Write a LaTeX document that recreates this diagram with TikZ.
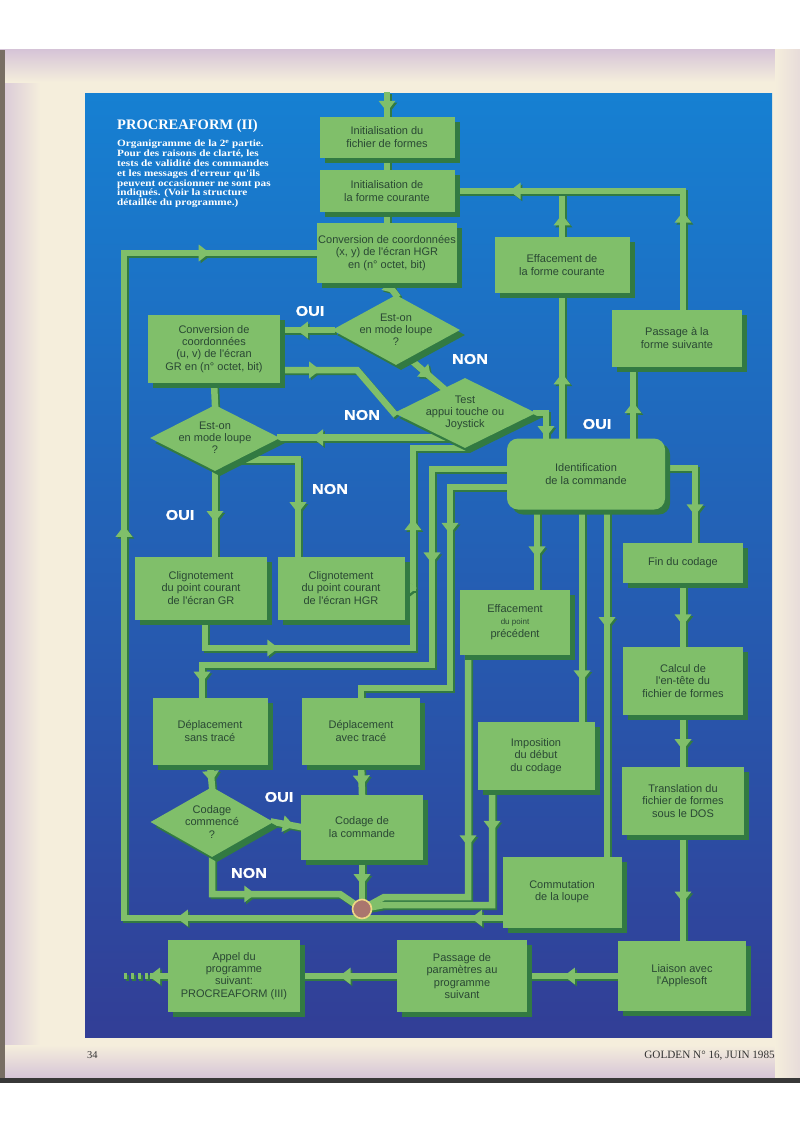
\documentclass[tikz,border=0pt]{standalone}
\usepackage{fontspec}
\setmainfont{Liberation Serif}
\newfontfamily\boxf{Liberation Sans}
\newfontfamily\capf[FakeStretch=1.17]{Liberation Serif}
\newfontfamily\labf[FakeStretch=1.15,FakeBold=1.2]{Liberation Sans}
\usetikzlibrary{shapes.geometric,shadows,decorations.markings,calc}
\definecolor{bgtop}{RGB}{22,128,210}
\definecolor{bgmid}{RGB}{34,98,192}
\definecolor{bgbot}{RGB}{50,62,150}
\definecolor{boxg}{RGB}{128,191,106}
\definecolor{shg}{RGB}{50,122,66}
\definecolor{txtg}{RGB}{42,72,52}
\definecolor{cream}{RGB}{245,238,220}
\definecolor{lilac}{RGB}{206,186,214}
\definecolor{tanedge}{RGB}{120,110,100}
\definecolor{junc}{RGB}{170,118,110}
\definecolor{juncedge}{RGB}{238,216,132}
\pgfdeclarelayer{back}
\pgfdeclarelayer{lines}
\pgfsetlayers{back,lines,main}
\newcommand\flowc[2][]{%
  \begin{scope}[transform canvas={shift={(1.8pt,-1.8pt)}}]\draw[flowsh,#1] #2;\end{scope}%
  \draw[flow,#1] #2;}
\tikzset{
  bx/.style={rectangle, fill=boxg, text=txtg, font=\boxf\fontsize{11}{12.2}\selectfont,
    align=center, inner sep=1pt,
    drop shadow={shadow xshift=5pt, shadow yshift=-5pt, fill=shg, opacity=1}},
  dia/.style={diamond, aspect=2, inner sep=-5pt, fill=boxg, text=txtg,
    font=\boxf\fontsize{11}{12.2}\selectfont, align=center,
    drop shadow={shadow xshift=5pt, shadow yshift=-5pt, fill=shg, opacity=1}},
  flow/.style={draw, color=boxg, line width=6.5pt, line join=miter, line cap=rect},
  flowsh/.style={draw, color=shg, line width=6.5pt, line join=miter, line cap=rect},
  ma/.style={postaction={decorate, decoration={markings,
      mark=at position #1 with {\fill (4pt,0pt) -- (-7pt,8.5pt) -- (-7pt,-8.5pt) -- cycle;}}}},
  lab/.style={text=white, font=\labf\bfseries\fontsize{14}{14}\selectfont, inner sep=0pt},
}
\begin{document}
\begin{tikzpicture}[x=1pt,y=-1pt]
\useasboundingbox (0,0) rectangle (800,1132);
% ---------------- nodes ----------------
\node[bx, minimum width=135pt, minimum height=41pt] (n1) at (387,137) {Initialisation du\\fichier de formes};
\node[bx, minimum width=135pt, minimum height=42pt] (n2) at (387,191) {Initialisation de\\la forme courante};
\node[bx, minimum width=135pt, minimum height=60pt] (n3) at (387,253) {Conversion de coordonnées\\(x, y) de l'écran HGR\\en (n° octet, bit)};
\node[dia, minimum width=128pt, minimum height=70pt] (d1) at (396,330) {Est-on\\en mode loupe\\?};
\node[bx, minimum width=132pt, minimum height=68pt] (n5) at (214,349) {Conversion de\\coordonnées\\(u, v) de l'écran\\GR en (n° octet, bit)};
\node[dia, minimum width=142pt, minimum height=70pt] (d2) at (465,413) {Test\\appui touche ou\\Joystick};
\node[dia, minimum width=130pt, minimum height=66pt] (d3) at (215,438) {Est-on\\en mode loupe\\?};
\node[bx, minimum width=132pt, minimum height=63pt] (n8) at (201,588) {Clignotement\\du point courant\\de l'écran GR};
\node[bx, minimum width=127pt, minimum height=63pt] (n9) at (341,588) {Clignotement\\du point courant\\de l'écran HGR};
\node[bx, rounded corners=11pt, minimum width=158pt, minimum height=71pt] (nid) at (586,474) {Identification\\de la commande};
\node[bx, minimum width=135pt, minimum height=56pt] (nefc) at (562,265) {Effacement de\\la forme courante};
\node[bx, minimum width=130pt, minimum height=57pt] (npfs) at (677,338) {Passage à la\\forme suivante};
\node[bx, minimum width=120pt, minimum height=40pt] (nfin) at (683,563) {Fin du codage};
\node[bx, minimum width=120pt, minimum height=68pt] (ncal) at (683,681) {Calcul de\\l'en-tête du\\fichier de formes};
\node[bx, minimum width=122pt, minimum height=68pt] (ntr) at (683,801) {Translation du\\fichier de formes\\sous le DOS};
\node[bx, minimum width=128pt, minimum height=70pt] (nlia) at (682,976) {Liaison avec\\l'Applesoft};
\node[bx, minimum width=130pt, minimum height=72pt] (npar) at (462,976) {Passage de\\paramètres au\\programme\\suivant};
\node[bx, minimum width=132pt, minimum height=72pt] (napp) at (234,976) {Appel du\\programme\\suivant:\\PROCREAFORM (III)};
\node[bx, minimum width=110pt, minimum height=65pt] (nepp) at (515,622) {Effacement\\{\fontsize{8}{12.2}\selectfont du point}\\précédent};
\node[bx, minimum width=117pt, minimum height=68pt] (nimp) at (536,756) {Imposition\\du début\\du codage};
\node[bx, minimum width=119pt, minimum height=71pt] (ncom) at (562,892) {Commutation\\de la loupe};
\node[bx, minimum width=115pt, minimum height=67pt] (nds) at (210,731) {Déplacement\\sans tracé};
\node[bx, minimum width=118pt, minimum height=67pt] (nda) at (361,731) {Déplacement\\avec tracé};
\node[dia, minimum width=123pt, minimum height=70pt] (d4) at (212,822) {Codage\\commencé\\?};
\node[bx, minimum width=122pt, minimum height=65pt] (ncod) at (362,827) {Codage de\\la commande};
\node[circle, fill=junc, draw=juncedge, line width=1.6pt, minimum size=19pt, inner sep=0pt] (J) at (362,909) {};
% labels
\node[lab] (l1) at (310,311) {OUI};
\node[lab] (l2) at (470,359) {NON};
\node[lab] (l3) at (362,415) {NON};
\node[lab] (l4) at (597,424) {OUI};
\node[lab] (l5) at (330,489) {NON};
\node[lab] (l6) at (180,515) {OUI};
\node[lab] (l7) at (279,797) {OUI};
\node[lab] (l8) at (249,873) {NON};
% title & caption
\node[anchor=north west, text=white, inner sep=0pt, font=\bfseries\fontsize{14.5}{16}\selectfont] (title) at (117,119) {PROCREAFORM (II)};
\node[anchor=north west, text=white, inner sep=0pt, align=left, font=\capf\bfseries\fontsize{9.6}{9.8}\selectfont] (cap) at (117,140)
 {Organigramme de la 2\textsuperscript{e} partie.\\Pour des raisons de clarté, les\\tests de validité des commandes\\et les messages d'erreur qu'ils\\peuvent occasionner ne sont pas\\indiqués. (Voir la structure\\détaillée du programme.)};
% footer
\node[anchor=base west, inner sep=0pt, text=black!80, font=\fontsize{10.5}{12}\selectfont] (pg) at (87,1058) {34};
\node[anchor=base east, inner sep=0pt, text=black!80, font=\fontsize{11.2}{12}\selectfont] (jr) at (775,1058) {GOLDEN N° 16, JUIN 1985};
% helper coordinates
\coordinate (entry) at (387,95);
\coordinate (exit) at (153,976);
\coordinate (exit2) at (124,976);
\coordinate (lk) at (357,370);
\coordinate (v1) at (413,648);
\coordinate (w1) at (432,665);
\coordinate (w2) at (450,688);
\coordinate (lp) at (124,600);
\coordinate (t0a) at ($(d1.south)!0.2!(d1.east)$);
\coordinate (t0b) at ($(d2.north)!0.3!(d2.west)$);
\coordinate (t1) at ($(d2.west)!0.7!(d2.south)$);
\coordinate (t2) at ($(d3.east)!0.65!(d3.south)$);
\coordinate (t3) at ($(n9.north)+(-43,0)$);
\coordinate (p1) at ($(npfs.south)+(-44,0)$);
\coordinate (p2) at ($(nepp.north)+(22,0)$);
\coordinate (p3) at ($(nimp.north)+(46,0)$);
\coordinate (p4) at ($(ncom.north)+(45,0)$);
\coordinate (p5) at ($(nepp.south)+(-47,0)$);
\coordinate (p6) at ($(nimp.south)+(-44,0)$);
% ---------------- background ----------------
\begin{pgfonlayer}{back}
\fill[white] (0,0) rectangle (800,1132);
\fill[cream] (0,50) rectangle (800,1080);
\shade[left color=lilac!75!cream, right color=cream] (0,50) rectangle (40,1080);
\shade[top color=lilac!80!cream, bottom color=cream] (0,50) rectangle (800,82);
\shade[top color=cream, bottom color=lilac!80!cream] (0,1045) rectangle (800,1078);
\shade[left color=cream, right color=lilac!35!cream] (775,50) rectangle (800,1080);
\fill[tanedge] (0,50) rectangle (5,1080);
\fill[black!78] (0,1078) rectangle (800,1083);
\shade[top color=bgtop, middle color=bgmid, bottom color=bgbot] (85,93) rectangle (772,1037);
\end{pgfonlayer}
% ---------------- connectors ----------------
\begin{pgfonlayer}{lines}
\flowc[ma=0.6]{(entry) -- (n1.north)}
\flowc{(n1.south) -- (n2.north)}
\flowc{(n2.south) -- (n3.north)}
\flowc[ma=0.6]{(n3.south) -- (d1.north)}
\flowc[ma=0.6]{(d1.west) -- (d1.west -| n5.east)}
\flowc[ma=0.55]{(t0a) -- (t0b)}
\flowc[ma=0.27]{(n5.east |- lk) -- (lk) -- (d2.west)}
\flowc[ma=0.78]{(t1) -- (t1 -| d3.east)}
\flowc{(n5.south) -- (d3.north)}
\flowc[ma=0.55]{(d3.south) -- (d3.south |- n8.north)}
\flowc[ma=0.7]{(t2) -| (t3)}
\flowc[ma=0.2, ma=0.74]{($(n8.south)+(4,0)$) |- (v1) |- (d2.south)}
\flowc[ma=0.97]{(n9.east) -- (n9.east -| v1)}
\flowc[ma=0.31, ma=0.965]{($(nid.west)+(0,-5)$) -| (w1) -| ($(nds.north)+(-8,0)$)}
\flowc[ma=0.28]{($(nid.west)+(0,13)$) -| (w2) -| (nda.north)}
\flowc[ma=0.85]{(d2.east) -| ($(nid.north)+(-40,0)$)}
\flowc[ma=0.42]{(nid.north -| nefc.south) -- (nefc.south)}
\flowc[ma=0.45]{(p1 |- nid.north) -- (p1)}
\flowc[ma=0.4]{(nefc.north) -- (nefc.north |- n2.east)}
\flowc[ma=0.27, ma=0.83]{($(npfs.north)+(6,0)$) |- (n2.east)}
\flowc[ma=0.7]{($(nid.east)+(0,-6)$) -| ($(nfin.north)+(12,0)$)}
\flowc[ma=0.55]{(p2 |- nid.south) -- (p2)}
\flowc[ma=0.79]{(p3 |- nid.south) -- (p3)}
\flowc[ma=0.33]{(p4 |- nid.south) -- (p4)}
\flowc[ma=0.6]{(nfin.south) -- (ncal.north)}
\flowc[ma=0.6]{(ncal.south) -- (ntr.north)}
\flowc[ma=0.6]{(ntr.south) -- (ntr.south |- nlia.north)}
\flowc[ma=0.55]{(nlia.west) -- (npar.east)}
\flowc[ma=0.55]{(npar.west) -- (napp.east)}
\flowc[ma=1]{(napp.west) -- (exit)}
\flowc[line cap=butt, dash pattern=on 3.5pt off 3.5pt]{($(exit)+(-5,0)$) -- (exit2)}
\flowc[ma=0.55]{(p5) |- ($(J)+(22,-12)$) -- (J)}
\flowc[ma=0.16]{(p6) |- ($(J)+(22,-4)$) -- (J)}
\flowc[ma=0.55]{(ncod.south) -- (J)}
\flowc[ma=0.42]{(d4.south) |- ($(J)+(-22,-15)$) -- (J)}
\flowc[ma=0.022, ma=0.26, ma=0.62, ma=0.91]{($(ncom.west)+(0,26)$) -| (lp) |- (n3.west)}
\flowc[ma=0.6]{(nds.south) -- (d4.north)}
\flowc[ma=0.6]{(nda.south) -- (ncod.north)}
\flowc[ma=0.6]{(d4.east) -- (ncod.west)}
\end{pgfonlayer}
\end{tikzpicture}
\end{document}
